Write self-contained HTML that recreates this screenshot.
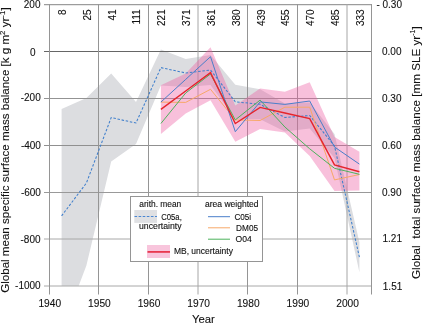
<!DOCTYPE html>
<html><head><meta charset="utf-8"><style>html,body{margin:0;padding:0;background:#fff;overflow:hidden}svg{display:block;will-change:transform}</style></head><body>
<svg width="423" height="331" viewBox="0 0 423 331">
<defs><clipPath id="pc"><rect x="49.5" y="4.5" width="322" height="281.5"/></clipPath></defs>
<rect width="423" height="331" fill="#fff"/>
<g clip-path="url(#pc)"><polygon points="61.6,108.9 86.4,98.0 111.2,73.6 136.0,102.0 160.9,49.6 185.7,59.0 210.5,55.0 235.3,84.8 260.1,89.3 284.9,103.5 309.7,102.5 334.5,134.0 359.4,242.2 359.4,272.2 334.5,158.0 309.7,128.5 284.9,131.5 260.1,119.3 235.3,118.8 210.5,85.0 185.7,87.0 160.9,85.6 136.0,144.0 111.2,161.6 86.4,265.5 61.6,331.0" fill="#dcdde0"/></g>
<line x1="44" y1="4.7" x2="371.5" y2="4.7" stroke="#858585" stroke-width="1"/>
<line x1="44" y1="51.5" x2="371.5" y2="51.5" stroke="#666666" stroke-width="1"/>
<line x1="44" y1="98.5" x2="371.5" y2="98.5" stroke="#939393" stroke-width="1"/>
<line x1="44" y1="145.5" x2="371.5" y2="145.5" stroke="#909090" stroke-width="1"/>
<line x1="44" y1="192.5" x2="371.5" y2="192.5" stroke="#999999" stroke-width="1"/>
<line x1="44" y1="239.0" x2="371.5" y2="239.0" stroke="#a8a8a8" stroke-width="1"/>
<line x1="44" y1="286.0" x2="371.5" y2="286.0" stroke="#a8a8a8" stroke-width="1"/>
<line x1="98.5" y1="4" x2="98.5" y2="294.5" stroke="#959595" stroke-width="1"/>
<line x1="148.5" y1="4" x2="148.5" y2="294.5" stroke="#959595" stroke-width="1"/>
<line x1="247.5" y1="4" x2="247.5" y2="294.5" stroke="#959595" stroke-width="1"/>
<line x1="297.5" y1="4" x2="297.5" y2="294.5" stroke="#959595" stroke-width="1"/>
<line x1="198.0" y1="4" x2="198.0" y2="294.5" stroke="#a6a6a6" stroke-width="1"/>
<line x1="347.0" y1="4" x2="347.0" y2="294.5" stroke="#a6a6a6" stroke-width="1"/>
<line x1="49.5" y1="4" x2="49.5" y2="294.5" stroke="#959595" stroke-width="1"/>
<line x1="371.5" y1="4" x2="371.5" y2="294.5" stroke="#959595" stroke-width="1"/>
<g clip-path="url(#pc)"><polygon points="160.9,85.3 185.7,73.5 210.5,47.3 235.3,105.6 260.1,88.6 284.9,91.8 309.7,82.3 334.5,137.0 359.4,151.7 359.4,190.6 334.5,191.0 309.7,156.0 284.9,132.5 260.1,129.0 235.3,141.7 210.5,100.3 185.7,113.5 160.9,134.0" fill="#ec5aa0" fill-opacity="0.38"/></g>
<g clip-path="url(#pc)" fill="none" stroke-linejoin="miter">
<polyline points="61.6,215.9 86.4,183.0 111.2,117.6 136.0,123.0 160.9,67.6 185.7,73.0 210.5,70.0 235.3,101.8 260.1,104.3 284.9,117.5 309.7,115.5 334.5,146.0 359.4,257.2" stroke="#3f7fcc" stroke-width="1.05" stroke-dasharray="2.5,1.7"/>
<polyline points="160.9,102.1 185.7,102.4 210.5,89.3 235.3,119.9 260.1,120.5 284.9,107.2 309.7,107.2 334.5,179.9 359.4,174.5" stroke="#f7a868" stroke-width="1"/>
<polyline points="160.9,123.5 185.7,93.0 210.5,74.0 235.3,119.9 260.1,100.1 284.9,127.0 309.7,148.8 334.5,168.3 359.4,174.3" stroke="#4cb25c" stroke-width="1"/>
<polyline points="160.9,102.1 185.7,79.4 210.5,56.7 235.3,131.7 260.1,101.9 284.9,104.4 309.7,101.0 334.5,147.0 359.4,164.1" stroke="#4a7fca" stroke-width="1"/>
<polyline points="160.9,109.4 185.7,91.0 210.5,72.6 235.3,123.5 260.1,107.4 284.9,113.0 309.7,118.6 334.5,164.9 359.4,171.8" stroke="#e6242c" stroke-width="1.45"/>
</g>
<text x="40.5" y="8.1" font-family="Liberation Sans, sans-serif" stroke="#111" stroke-width="0.1" font-size="10" text-anchor="end" fill="#111">200</text>
<text x="35.5" y="55.8" font-family="Liberation Sans, sans-serif" stroke="#111" stroke-width="0.1" font-size="10" text-anchor="end" fill="#111">0</text>
<text x="40.7" y="101.3" font-family="Liberation Sans, sans-serif" stroke="#111" stroke-width="0.1" font-size="10" text-anchor="end" fill="#111">-200</text>
<text x="40.9" y="149.4" font-family="Liberation Sans, sans-serif" stroke="#111" stroke-width="0.1" font-size="10" text-anchor="end" fill="#111">-400</text>
<text x="40.9" y="196.2" font-family="Liberation Sans, sans-serif" stroke="#111" stroke-width="0.1" font-size="10" text-anchor="end" fill="#111">-600</text>
<text x="40.5" y="242.7" font-family="Liberation Sans, sans-serif" stroke="#111" stroke-width="0.1" font-size="10" text-anchor="end" fill="#111">-800</text>
<text x="40.7" y="289.4" font-family="Liberation Sans, sans-serif" stroke="#111" stroke-width="0.1" font-size="10" text-anchor="end" fill="#111">-1000</text>
<text x="376.4" y="7.7" font-family="Liberation Sans, sans-serif" stroke="#111" stroke-width="0.1" font-size="10" fill="#111">- 0.30</text>
<text x="382.0" y="54.5" font-family="Liberation Sans, sans-serif" stroke="#111" stroke-width="0.1" font-size="10" fill="#111">0.00</text>
<text x="382.0" y="101.5" font-family="Liberation Sans, sans-serif" stroke="#111" stroke-width="0.1" font-size="10" fill="#111">0.30</text>
<text x="382.0" y="148.5" font-family="Liberation Sans, sans-serif" stroke="#111" stroke-width="0.1" font-size="10" fill="#111">0.60</text>
<text x="382.0" y="195.5" font-family="Liberation Sans, sans-serif" stroke="#111" stroke-width="0.1" font-size="10" fill="#111">0.90</text>
<text x="382.5" y="242.0" font-family="Liberation Sans, sans-serif" stroke="#111" stroke-width="0.1" font-size="10" fill="#111">1.21</text>
<text x="382.8" y="289.6" font-family="Liberation Sans, sans-serif" stroke="#111" stroke-width="0.1" font-size="10" fill="#111">1.51</text>
<text x="49.8" y="307" font-family="Liberation Sans, sans-serif" stroke="#111" stroke-width="0.1" font-size="10.2" text-anchor="middle" fill="#111">1940</text>
<text x="99.4" y="307" font-family="Liberation Sans, sans-serif" stroke="#111" stroke-width="0.1" font-size="10.2" text-anchor="middle" fill="#111">1950</text>
<text x="149.0" y="307" font-family="Liberation Sans, sans-serif" stroke="#111" stroke-width="0.1" font-size="10.2" text-anchor="middle" fill="#111">1960</text>
<text x="198.7" y="307" font-family="Liberation Sans, sans-serif" stroke="#111" stroke-width="0.1" font-size="10.2" text-anchor="middle" fill="#111">1970</text>
<text x="248.3" y="307" font-family="Liberation Sans, sans-serif" stroke="#111" stroke-width="0.1" font-size="10.2" text-anchor="middle" fill="#111">1980</text>
<text x="297.9" y="307" font-family="Liberation Sans, sans-serif" stroke="#111" stroke-width="0.1" font-size="10.2" text-anchor="middle" fill="#111">1990</text>
<text x="347.6" y="307" font-family="Liberation Sans, sans-serif" stroke="#111" stroke-width="0.1" font-size="10.2" text-anchor="middle" fill="#111">2000</text>
<text x="203.4" y="322.6" font-family="Liberation Sans, sans-serif" stroke="#111" stroke-width="0.1" font-size="11.3" text-anchor="middle" fill="#111">Year</text>
<text transform="translate(66.0,9.4) rotate(-90)" font-family="Liberation Sans, sans-serif" stroke="#111" stroke-width="0.1" font-size="10" text-anchor="end" fill="#111">8</text>
<text transform="translate(90.8,9.4) rotate(-90)" font-family="Liberation Sans, sans-serif" stroke="#111" stroke-width="0.1" font-size="10" text-anchor="end" fill="#111">25</text>
<text transform="translate(115.6,9.4) rotate(-90)" font-family="Liberation Sans, sans-serif" stroke="#111" stroke-width="0.1" font-size="10" text-anchor="end" fill="#111">41</text>
<text transform="translate(140.4,9.4) rotate(-90)" font-family="Liberation Sans, sans-serif" stroke="#111" stroke-width="0.1" font-size="10" text-anchor="end" fill="#111">111</text>
<text transform="translate(165.2,9.4) rotate(-90)" font-family="Liberation Sans, sans-serif" stroke="#111" stroke-width="0.1" font-size="10" text-anchor="end" fill="#111">221</text>
<text transform="translate(190.0,9.4) rotate(-90)" font-family="Liberation Sans, sans-serif" stroke="#111" stroke-width="0.1" font-size="10" text-anchor="end" fill="#111">371</text>
<text transform="translate(214.8,9.4) rotate(-90)" font-family="Liberation Sans, sans-serif" stroke="#111" stroke-width="0.1" font-size="10" text-anchor="end" fill="#111">361</text>
<text transform="translate(239.6,9.4) rotate(-90)" font-family="Liberation Sans, sans-serif" stroke="#111" stroke-width="0.1" font-size="10" text-anchor="end" fill="#111">380</text>
<text transform="translate(264.5,9.4) rotate(-90)" font-family="Liberation Sans, sans-serif" stroke="#111" stroke-width="0.1" font-size="10" text-anchor="end" fill="#111">439</text>
<text transform="translate(289.3,9.4) rotate(-90)" font-family="Liberation Sans, sans-serif" stroke="#111" stroke-width="0.1" font-size="10" text-anchor="end" fill="#111">455</text>
<text transform="translate(314.1,9.4) rotate(-90)" font-family="Liberation Sans, sans-serif" stroke="#111" stroke-width="0.1" font-size="10" text-anchor="end" fill="#111">470</text>
<text transform="translate(338.9,9.4) rotate(-90)" font-family="Liberation Sans, sans-serif" stroke="#111" stroke-width="0.1" font-size="10" text-anchor="end" fill="#111">485</text>
<text transform="translate(363.7,9.4) rotate(-90)" font-family="Liberation Sans, sans-serif" stroke="#111" stroke-width="0.1" font-size="10" text-anchor="end" fill="#111">333</text>
<text transform="translate(9.1,292.8) rotate(-90)" font-family="Liberation Sans, sans-serif" stroke="#111" stroke-width="0.1" font-size="11.6" fill="#111" textLength="285.5" lengthAdjust="spacing">Global mean specific surface mass balance [k g m<tspan font-size="8" dy="-4.5">2</tspan><tspan dy="4.5"> yr</tspan><tspan font-size="8" dy="-4.5">-1</tspan><tspan dy="4.5">]</tspan></text>
<text transform="translate(420.2,279) rotate(-90)" font-family="Liberation Sans, sans-serif" stroke="#111" stroke-width="0.1" font-size="11.6" fill="#111" style="white-space:pre" textLength="252.7" lengthAdjust="spacing">Global  total surface mass balance [mm SLE yr<tspan font-size="7" dy="-4.8">-1</tspan><tspan dy="4.8">]</tspan></text>
<rect x="130.5" y="196.5" width="132" height="65" fill="#fff" stroke="#959595" stroke-width="1"/>
<rect x="134.3" y="210" width="22.7" height="12.9" fill="#dfe0e3"/>
<line x1="134.5" y1="216.5" x2="157" y2="216.5" stroke="#4a86d2" stroke-width="1.05" stroke-dasharray="2.6,1.5"/>
<line x1="208" y1="216.7" x2="230" y2="216.7" stroke="#4a7fca" stroke-width="1"/>
<line x1="208" y1="227.8" x2="230" y2="227.8" stroke="#f7a868" stroke-width="1"/>
<line x1="208" y1="239.2" x2="230" y2="239.2" stroke="#4cb25c" stroke-width="1"/>
<rect x="147" y="245" width="23" height="13" fill="#f8c5dc"/>
<line x1="147.5" y1="251.9" x2="170" y2="251.9" stroke="#e8394f" stroke-width="1.8"/>
<text x="139.3" y="206.5" font-family="Liberation Sans, sans-serif" font-size="9" fill="#111" stroke="#111" stroke-width="0.12" lengthAdjust="spacingAndGlyphs" textLength="42">arith. mean</text>
<text x="205" y="206.6" font-family="Liberation Sans, sans-serif" font-size="9" fill="#111" stroke="#111" stroke-width="0.12" lengthAdjust="spacingAndGlyphs" textLength="53.5">area weighted</text>
<text x="161.2" y="219.9" font-family="Liberation Sans, sans-serif" font-size="9" fill="#111" stroke="#111" stroke-width="0.12" lengthAdjust="spacingAndGlyphs" textLength="20.6">C05a,</text>
<text x="139" y="229.3" font-family="Liberation Sans, sans-serif" font-size="9" fill="#111" stroke="#111" stroke-width="0.12" lengthAdjust="spacingAndGlyphs" textLength="42.6">uncertainty</text>
<text x="234.4" y="219.8" font-family="Liberation Sans, sans-serif" font-size="9" fill="#111" stroke="#111" stroke-width="0.12" lengthAdjust="spacingAndGlyphs" textLength="16.8">C05i</text>
<text x="236.1" y="230.7" font-family="Liberation Sans, sans-serif" font-size="9" fill="#111" stroke="#111" stroke-width="0.12" lengthAdjust="spacingAndGlyphs" textLength="22">DM05</text>
<text x="235.5" y="242.2" font-family="Liberation Sans, sans-serif" font-size="9" fill="#111" stroke="#111" stroke-width="0.12" lengthAdjust="spacingAndGlyphs" textLength="16.2">O04</text>
<text x="173.9" y="254.1" font-family="Liberation Sans, sans-serif" font-size="9" fill="#111" stroke="#111" stroke-width="0.12" lengthAdjust="spacingAndGlyphs" textLength="59">MB, uncertainty</text>
</svg>
</body></html>
